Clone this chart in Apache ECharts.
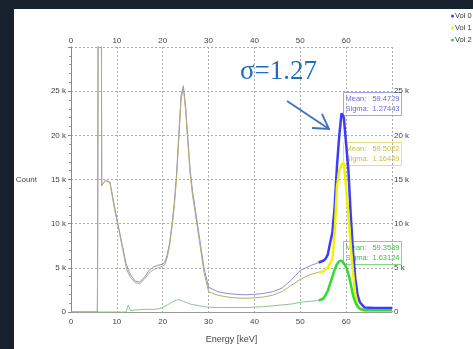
<!DOCTYPE html>
<html>
<head>
<meta charset="utf-8">
<script src="https://cdn.jsdelivr.net/npm/echarts@6/dist/echarts.min.js"></script>
<style>
  html, body { margin: 0; padding: 0; background: #fff; }
  #chart { width: 473px; height: 349px; }
</style>
</head>
<body>
<div id="chart"></div>
<script>
// energy bins (keV)
var energy = [0, 5.75, 5.8, 5.9, 5.95, 6.6, 6.7, 7.5, 8.5, 9.5, 10, 10.5, 11, 11.5, 12, 12.5, 13, 14, 15, 16,
  17, 18, 19, 20, 20.5, 21, 21.5, 22, 22.5, 23, 23.5, 24, 24.5, 25, 25.5, 26, 26.5, 27, 28, 29,
  30, 32, 34, 36, 38, 40, 42, 44, 46, 48, 50, 52, 54, 55, 55.5, 56, 56.5, 57, 57.5, 58,
  58.5, 59, 59.5, 60, 60.5, 61, 61.5, 62, 62.5, 63, 64, 66, 68, 70];

var vol0 = [0, 0, 5200, 5200, 40000, 40000, 14300, 14900, 14700, 11900, 10600, 9300, 8000, 6800, 5500, 4800, 4200, 3500, 3400, 3900,
  4700, 5100, 5300, 5400, 5700, 6500, 7800, 9800, 12200, 15500, 20000, 24500, 25600, 23200, 19500, 16000, 13700, 12000, 8500, 5000,
  2800, 2300, 2100, 2000, 1950, 2000, 2100, 2300, 2700, 3600, 4700, 5200, 5600, 5800, 6000, 6500, 7800, 9000, 12000, 16500,
  20000, 22500, 22000, 19000, 16000, 11000, 6800, 3800, 1900, 1100, 500, 450, 450, 450];

var vol1 = [0, 0, 5200, 5200, 40000, 40000, 14300, 14900, 14600, 11600, 10400, 9100, 7800, 6500, 5100, 4400, 3900, 3300, 3200, 3700,
  4400, 4800, 5000, 5200, 5400, 6200, 7500, 9500, 11800, 15000, 19500, 24000, 25400, 22800, 19000, 15500, 13200, 11500, 8000, 4500,
  2300, 1900, 1700, 1600, 1550, 1600, 1700, 1900, 2300, 3000, 3700, 4200, 4500, 4600, 4800, 5000, 5500, 6000, 9000, 14200,
  16000, 16700, 16900, 14000, 11000, 7500, 4500, 2000, 800, 400, 200, 200, 200, 200];

var vol2 = [0, 0, 0, 0, 0, 0, 0, 0, 0, 0, 0, 0, 0, 0, 0, 800, 150, 250, 250, 300,
  300, 300, 350, 500, 650, 800, 950, 1100, 1250, 1350, 1400, 1300, 1200, 1100, 1000, 900, 850, 800, 700, 600,
  550, 500, 500, 500, 500, 550, 600, 700, 800, 900, 1100, 1200, 1300, 1500, 1900, 2400, 3200, 4000, 4800, 5400,
  5750, 5800, 5500, 5100, 4300, 3200, 1900, 1100, 600, 350, 200, 200, 200, 200];

var volNames = ["Vol 0", "Vol 1", "Vol 2"];
var boldColors = ["#3c3cff", "#f2f200", "#2fdc2f"];
var fadeColors = ["#8c8cd6", "#b4ae6c", "#8cc48c"];
var stats = [
  ["59.4729", "1.27443"],
  ["59.5022", "1.16449"],
  ["59.3589", "1.63124"],
];
var splitAt = 54; // region of interest starts here

function pairs(values, keep) {
  var out = [];
  for (var i = 0; i < energy.length; i++) {
    if (keep(energy[i])) out.push([energy[i], values[i]]);
  }
  return out;
}

var allVols = [vol0, vol1, vol2];
var series = [];
allVols.forEach(function (vals, k) {
  series.push({
    type: "line",
    name: volNames[k],
    data: pairs(vals, function (e) { return e <= splitAt; }),
    showSymbol: false,
    z: 2,
    itemStyle: { color: boldColors[k] },
    lineStyle: { color: fadeColors[k], width: 1 },
  });
});
allVols.forEach(function (vals, k) {
  series.push({
    type: "line",
    name: volNames[k],
    data: pairs(vals, function (e) { return e >= splitAt; }),
    showSymbol: false,
    z: 3,
    itemStyle: { color: boldColors[k] },
    lineStyle: { color: boldColors[k], width: 2.5 },
  });
});

function kFormat(v) {
  if (v === 0) return "0";
  if (v >= 30000) return "";
  return v / 1000 + " k";
}
function eFormat(v) {
  return v >= 70 ? "" : String(v);
}

var labelFont = { fontFamily: "Liberation Sans", fontSize: 8, color: "#444" };

// stat boxes next to the peaks
var boxTops = [92, 142, 241];
var boxBorder = ["#a4a4ec", "#e4e08c", "#7cdc7c"];
var boxText = ["#6a6ad8", "#c8c04c", "#3cc43c"];
var boxFont = "7.5px 'Liberation Sans'";
var graphics = [
  { type: "rect", left: 0, top: 0, shape: { width: 473, height: 9 }, style: { fill: "#17202d" }, z: 10 },
  { type: "rect", left: 0, top: 0, shape: { width: 14, height: 349 }, style: { fill: "#17202d" }, z: 10 },
  {
    type: "text", left: 240, top: 58, z: 10,
    style: { text: "σ=1.27", font: "27px 'Liberation Serif'", fill: "#1f6cc0" },
  },
  {
    type: "line", z: 10,
    shape: { x1: 287, y1: 101, x2: 329, y2: 129 },
    style: { stroke: "#3d72bd", lineWidth: 1.8 },
  },
  {
    type: "polyline", z: 10,
    shape: { points: [[312, 128], [329, 129], [322, 114]] },
    style: { stroke: "#3d72bd", lineWidth: 1.8, fill: null },
  },
];
stats.forEach(function (s, k) {
  graphics.push({
    type: "group", left: 343, top: boxTops[k], z: 10,
    children: [
      { type: "rect", shape: { x: 0, y: 0, width: 58, height: 23 }, style: { fill: "rgba(255,255,255,0.85)", stroke: boxBorder[k], lineWidth: 1 } },
      { type: "text", x: 2, y: 2, style: { text: "Mean:", font: boxFont, fill: boxText[k] } },
      { type: "text", x: 56, y: 2, style: { text: s[0], font: boxFont, fill: boxText[k], align: "right" } },
      { type: "text", x: 2, y: 12.5, style: { text: "Sigma:", font: boxFont, fill: boxText[k] } },
      { type: "text", x: 56, y: 12.5, style: { text: s[1], font: boxFont, fill: boxText[k], align: "right" } },
    ],
  });
});

var chart = echarts.init(document.getElementById("chart"));
var option = {
  animation: false,
  backgroundColor: "#fff",
  grid: { left: 71, right: 81, top: 47, bottom: 36 },
  legend: {
    data: volNames,
    orient: "vertical",
    left: 451,
    top: 12,
    padding: 0,
    itemGap: 4,
    itemWidth: 3,
    itemHeight: 3,
    icon: "circle",
    textStyle: { fontFamily: "Liberation Sans", fontSize: 7.5, color: "#333", padding: [0, 0, 0, -4] },
  },
  xAxis: [
    {
      type: "value", min: 0, max: 70, interval: 10,
      name: "Energy [keV]", nameLocation: "middle", nameGap: 23,
      nameTextStyle: { fontFamily: "Liberation Sans", fontSize: 9, color: "#444" },
      axisLine: { show: true, lineStyle: { color: "#999" } },
      axisTick: { show: false },
      axisLabel: Object.assign({ formatter: eFormat, margin: 6 }, labelFont),
      splitLine: { show: true, lineStyle: { color: "#aaa", type: [2, 2] } },
    },
    {
      type: "value", min: 0, max: 70, interval: 10, position: "top",
      axisLine: { show: false },
      axisTick: { show: false },
      axisLabel: Object.assign({ formatter: eFormat, margin: 2 }, labelFont),
      splitLine: { show: false },
    },
  ],
  yAxis: [
    {
      type: "value", min: 0, max: 30000, interval: 5000,
      name: "Count", nameLocation: "middle", nameRotate: 0, nameGap: 34,
      nameTextStyle: { fontFamily: "Liberation Sans", fontSize: 8, color: "#444" },
      axisLine: { show: true, lineStyle: { color: "#888" } },
      axisTick: { show: true, length: 3, lineStyle: { color: "#888" } },
      minorTick: { show: true, splitNumber: 5, length: 2, lineStyle: { color: "#999" } },
      axisLabel: Object.assign({ formatter: kFormat, margin: 5 }, labelFont),
      splitLine: { show: true, lineStyle: { color: "#aaa", type: [2, 2] } },
    },
    {
      type: "value", min: 0, max: 30000, interval: 5000, position: "right",
      axisLine: { show: false },
      axisTick: { show: true, length: 3, inside: true, lineStyle: { color: "#888" } },
      axisLabel: Object.assign({ formatter: kFormat, margin: 2 }, labelFont),
      splitLine: { show: false },
    },
  ],
  graphic: graphics,
  series: series,
};
option && chart.setOption(option);
</script>
</body>
</html>
